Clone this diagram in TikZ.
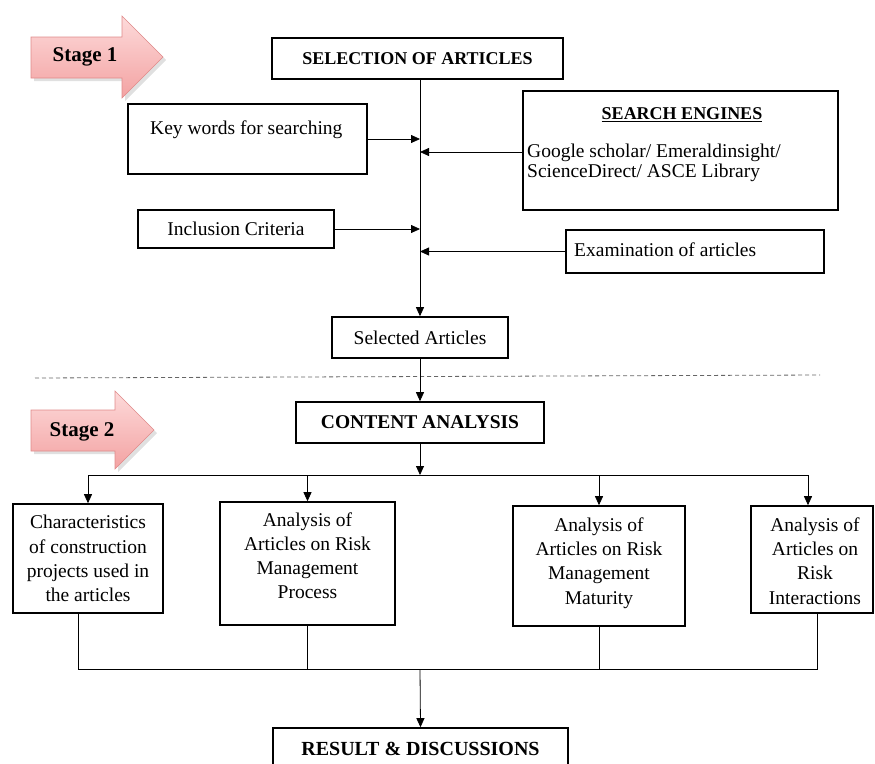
\documentclass[tikz,border=0pt]{standalone}
\usepackage{fontspec}
\setmainfont{Liberation Serif}
\usetikzlibrary{arrows.meta}
\definecolor{pinktop}{HTML}{FDDADA}
\definecolor{pinkbot}{HTML}{F3A2A2}
\definecolor{pinkedge}{HTML}{E08A8A}
\begin{document}
\begin{tikzpicture}[x=1pt,y=-1pt,
  box/.style={draw, line width=1.6pt, inner sep=0pt},
  conn/.style={line width=0.8pt},
  arr/.style={conn, -{Triangle[length=9pt,width=8pt]}},
  txt/.style={inner sep=0pt, font=\fontsize{19.5}{24.3}\selectfont},
  btxt/.style={inner sep=0pt, font=\bfseries\fontsize{#1}{#1}\selectfont},
  stagearrow/.style={draw=pinkedge, line width=0.6pt, top color=pinktop, bottom color=pinkbot},
  shadowarrow/.style={fill=black, opacity=0.12}
]
\clip (0,0) rectangle (875,763);
\useasboundingbox (0,0) rectangle (875,763);

% ---------- Stage arrows ----------
\fill[shadowarrow] (34,40) -- (125,40) -- (125,19) -- (166,60) -- (125,101) -- (125,81) -- (34,81) -- cycle;
\path[stagearrow] (31,37) -- (122,37) -- (122,16) -- (163,57) -- (122,98) -- (122,78) -- (31,78) -- cycle;
\node[btxt=21] (st1) at (85,57) {Stage 1};

\fill[shadowarrow] (34,413) -- (118,413) -- (118,394) -- (157,433) -- (118,472) -- (118,454) -- (34,454) -- cycle;
\path[stagearrow] (31,410) -- (115,410) -- (115,391) -- (154,430) -- (115,469) -- (115,451) -- (31,451) -- cycle;
\node[btxt=21] (st2) at (82,432) {Stage 2};

% ---------- Stage 1 boxes ----------
\node[box, minimum width=291, minimum height=41, btxt=18] (sel) at (417.5,58.5) {SELECTION OF ARTICLES};

\node[box, minimum width=239, minimum height=70] (kw) at (247.5,139) {};
\node[txt, anchor=west] (kwt) at (150,130) {Key words for searching};

\node[box, minimum width=315, minimum height=119] (sea) at (680.5,150.5) {};
\node[btxt=18] (seah) at (682,115) {\underline{SEARCH ENGINES}};
\node[txt, anchor=west, align=left, font=\fontsize{19.5}{19.5}\selectfont] (seat) at (527,163) {Google scholar/ Emeraldinsight/\\ScienceDirect/ ASCE Library};

\node[box, minimum width=196, minimum height=38, txt] (inc) at (236,229) {Inclusion Criteria};

\node[box, minimum width=258, minimum height=43] (exam) at (695,251.5) {};
\node[txt, anchor=west] (examt) at (574,250) {Examination of articles};

\node[box, minimum width=176, minimum height=41, txt] (selart) at (420,337.5) {Selected Articles};

% main line and side inputs
\coordinate (mtop) at (420,79);
\draw[arr] (mtop) -- (selart.north);
\draw[arr] (kw.east) -- (kw.east -| mtop);
\draw[arr] (sea.west |- 0,152) -- (mtop |- 0,152);
\draw[arr] (inc.east) -- (inc.east -| mtop);
\draw[arr] (exam.west) -- (exam.west -| mtop);

% dashed separator
\coordinate (dl1) at (35,378);
\coordinate (dl2) at (820,375);
\draw[line width=0.8pt, gray!80!black, dash pattern=on 4pt off 3pt] (dl1) -- (dl2);

% ---------- Stage 2 ----------
\node[box, minimum width=248, minimum height=41, btxt=19.5] (ca) at (420,422.5) {CONTENT ANALYSIS};
\draw[arr] (selart.south) -- (ca.north);

\node[box, minimum width=150, minimum height=109] (b1) at (88,558.5) {};
\node[box, minimum width=175, minimum height=123] (b2) at (307.5,563.5) {};
\node[box, minimum width=172, minimum height=120] (b3) at (599,566) {};
\node[box, minimum width=122, minimum height=107] (b4) at (812,559.5) {};

\node[txt, align=center] (b1t) at (88,558.7) {Characteristics\\of construction\\projects used in\\the articles};
\node[txt, align=center] (b2t) at (307.5,555.7) {Analysis of\\Articles on Risk\\Management\\Process};
\node[txt, align=center] (b3t) at (599,562.9) {Analysis of\\Articles on Risk\\Management\\Maturity};
\begin{scope}
\clip (b4.north west) rectangle (b4.south east);
\node[txt, align=center] (b4t) at (815,561) {Analysis of\\Articles on\\Risk\\Interactions};
\end{scope}

% distribution bus
\coordinate (bus) at (420,475);
\coordinate (t4) at (808,475);
\draw[arr] (ca.south) -- (bus);
\draw[conn] (b1.north |- bus) -- (t4);
\draw[arr] (b1.north |- bus) -- (b1.north);
\draw[arr] (b2.north |- bus) -- (b2.north);
\draw[arr] (b3.north |- bus) -- (b3.north);
\draw[arr] (t4) -- (t4 |- b4.north);

% collecting bus
\coordinate (cbus) at (420,669);
\coordinate (c1) at (78,669);
\coordinate (c4) at (817,669);
\draw[conn] (c1 |- b1.south) -- (c1) -- (c4) -- (c4 |- b4.south);
\draw[conn] (b2.south) -- (b2.south |- cbus);
\draw[conn] (b3.south) -- (b3.south |- cbus);

\node[box, minimum width=295, minimum height=41, btxt=20] (res) at (420.5,748.5) {RESULT \& DISCUSSIONS};
\draw[arr] (cbus) -- (res.north);
\end{tikzpicture}
\end{document}
